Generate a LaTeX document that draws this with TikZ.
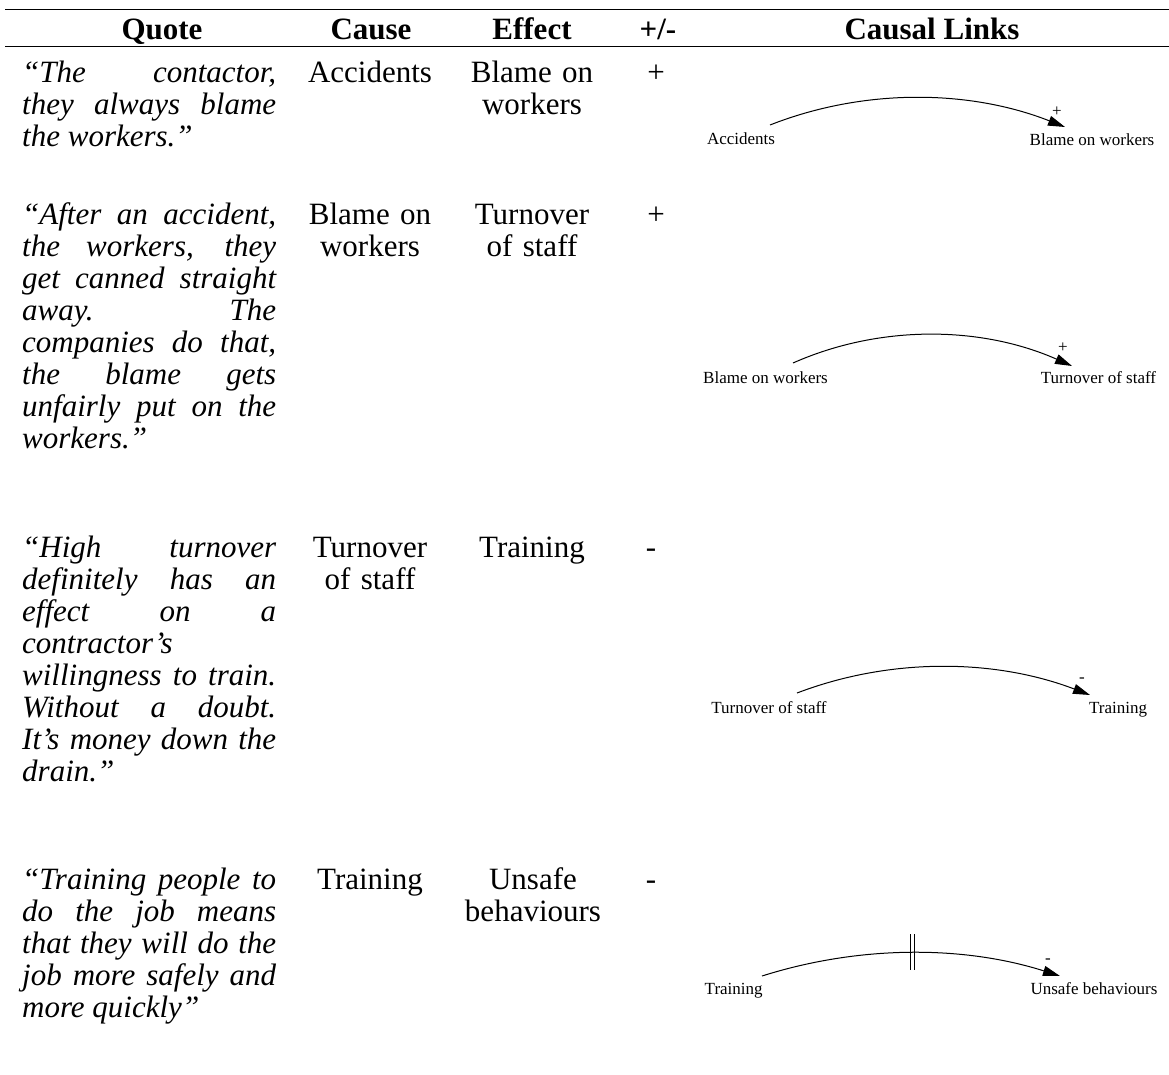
\documentclass[tikz,border=0pt]{standalone}
\usepackage{fontspec}
\setmainfont{Liberation Serif}
\usetikzlibrary{arrows.meta}
\tolerance=10000
\hyphenpenalty=10000
\exhyphenpenalty=10000
\begin{document}
\begin{tikzpicture}[x=1pt,y=-1pt,
  bodytxt/.style={font=\fontsize{31}{32}\selectfont, inner sep=0pt},
  headtxt/.style={font=\fontsize{31}{32}\selectfont\bfseries, inner sep=0pt, anchor=base},
  quotebox/.style={inner sep=0pt, anchor=base west, text width=254pt, align=justify, font=\fontsize{31}{32}\selectfont\itshape},
  cellbox/.style={bodytxt, anchor=base, text width=160pt, align=center},
  signtxt/.style={bodytxt, anchor=base},
  vartxt/.style={font=\fontsize{17}{19}\selectfont, inner sep=0pt, anchor=base},
  poltxt/.style={font=\fontsize{17}{19}\selectfont, inner sep=0pt, anchor=base},
  causallink/.style={line width=1pt, -{Triangle[length=17pt,width=10pt]}},
  rulethick/.style={line width=1.3pt},
  rulethin/.style={line width=1pt},
  delaymark/.style={line width=0.8pt},
]
\useasboundingbox (0,0) rectangle (1169,1075);

% header
\draw[rulethick] (5,9.5) -- (1169,9.5);
\node[headtxt] (hq) at (162,40) {Quote};
\node[headtxt] (hc) at (371,40) {Cause};
\node[headtxt] (he) at (532,40) {Effect};
\node[headtxt] (hp) at (658,40) {+/-};
\node[headtxt] (hl) at (932,40) {Causal Links};
\draw[rulethin] (5,46.5) -- (1169,46.5);

% quotes
\node[quotebox] (q1) at (22,83) {“The contactor,\linebreak they always blame\linebreak the workers.”};
\node[quotebox] (q2) at (22,225) {“After an accident,\linebreak the workers, they\linebreak get canned straight\linebreak away. The\linebreak companies do that,\linebreak the blame gets\linebreak unfairly put on the\linebreak workers.”};
\node[quotebox] (q3) at (22,557) {“High turnover\linebreak definitely has an\linebreak effect on a\linebreak contractor’s\linebreak willingness to train.\linebreak Without a doubt.\linebreak It’s money down the\linebreak drain.”};
\node[quotebox] (q4) at (22,889) {“Training people to\linebreak do the job means\linebreak that they will do the\linebreak job more safely and\linebreak more quickly”};

% cause / effect / sign
\node[cellbox] (c1) at (370,83) {Accidents};
\node[cellbox] (e1) at (532,83) {Blame on\\workers};
\node[signtxt] (s1) at (656,83) {+};
\node[cellbox] (c2) at (370,225) {Blame on\\workers};
\node[cellbox] (e2) at (532,225) {Turnover\\of staff};
\node[signtxt] (s2) at (656,225) {+};
\node[cellbox] (c3) at (370,557) {Turnover\\of staff};
\node[cellbox] (e3) at (532,557) {Training};
\node[signtxt] (s3) at (651,557) {-};
\node[cellbox] (c4) at (370,889) {Training};
\node[cellbox] (e4) at (533,889) {Unsafe\\behaviours};
\node[signtxt] (s4) at (651,889) {-};

% causal links
\node[vartxt] (a1) at (741,145) {Accidents};
\node[vartxt] (b1) at (1092,146) {Blame on workers};
\node[poltxt] (p1) at (1057,117) {+};
\draw[causallink] ([shift={(29,-20)}]a1.base) .. controls +(94.8,-37.3) and +(-94.8,-37.3) .. ([shift={(-27,-19)}]b1.base);

\node[vartxt] (a2) at (765.5,383) {Blame on workers};
\node[vartxt] (b2) at (1098.5,383) {Turnover of staff};
\node[poltxt] (p2) at (1063,352) {+};
\draw[causallink] ([shift={(27.5,-20)}]a2.base) .. controls +(88.9,-39.4) and +(-88.9,-39.4) .. ([shift={(-26.5,-17)}]b2.base);

\node[vartxt] (a3) at (769,713) {Turnover of staff};
\node[vartxt] (b3) at (1118,713) {Training};
\node[poltxt] (p3) at (1082,682) {-};
\draw[causallink] ([shift={(28,-20)}]a3.base) .. controls +(94.4,-36) and +(-94.4,-36) .. ([shift={(-28,-18)}]b3.base);

\node[vartxt] (a4) at (733.7,994) {Training};
\node[vartxt] (b4) at (1094,994) {Unsafe behaviours};
\node[poltxt] (p4) at (1048,963) {-};
\draw[causallink] ([shift={(28.3,-18)}]a4.base) .. controls +(97.2,-30.8) and +(-97.2,-30.8) .. ([shift={(-34,-18)}]b4.base);
\draw[delaymark] (910.7,934) -- (910.7,970);
\draw[delaymark] (914.3,934) -- (914.3,970);
\end{tikzpicture}
\end{document}
